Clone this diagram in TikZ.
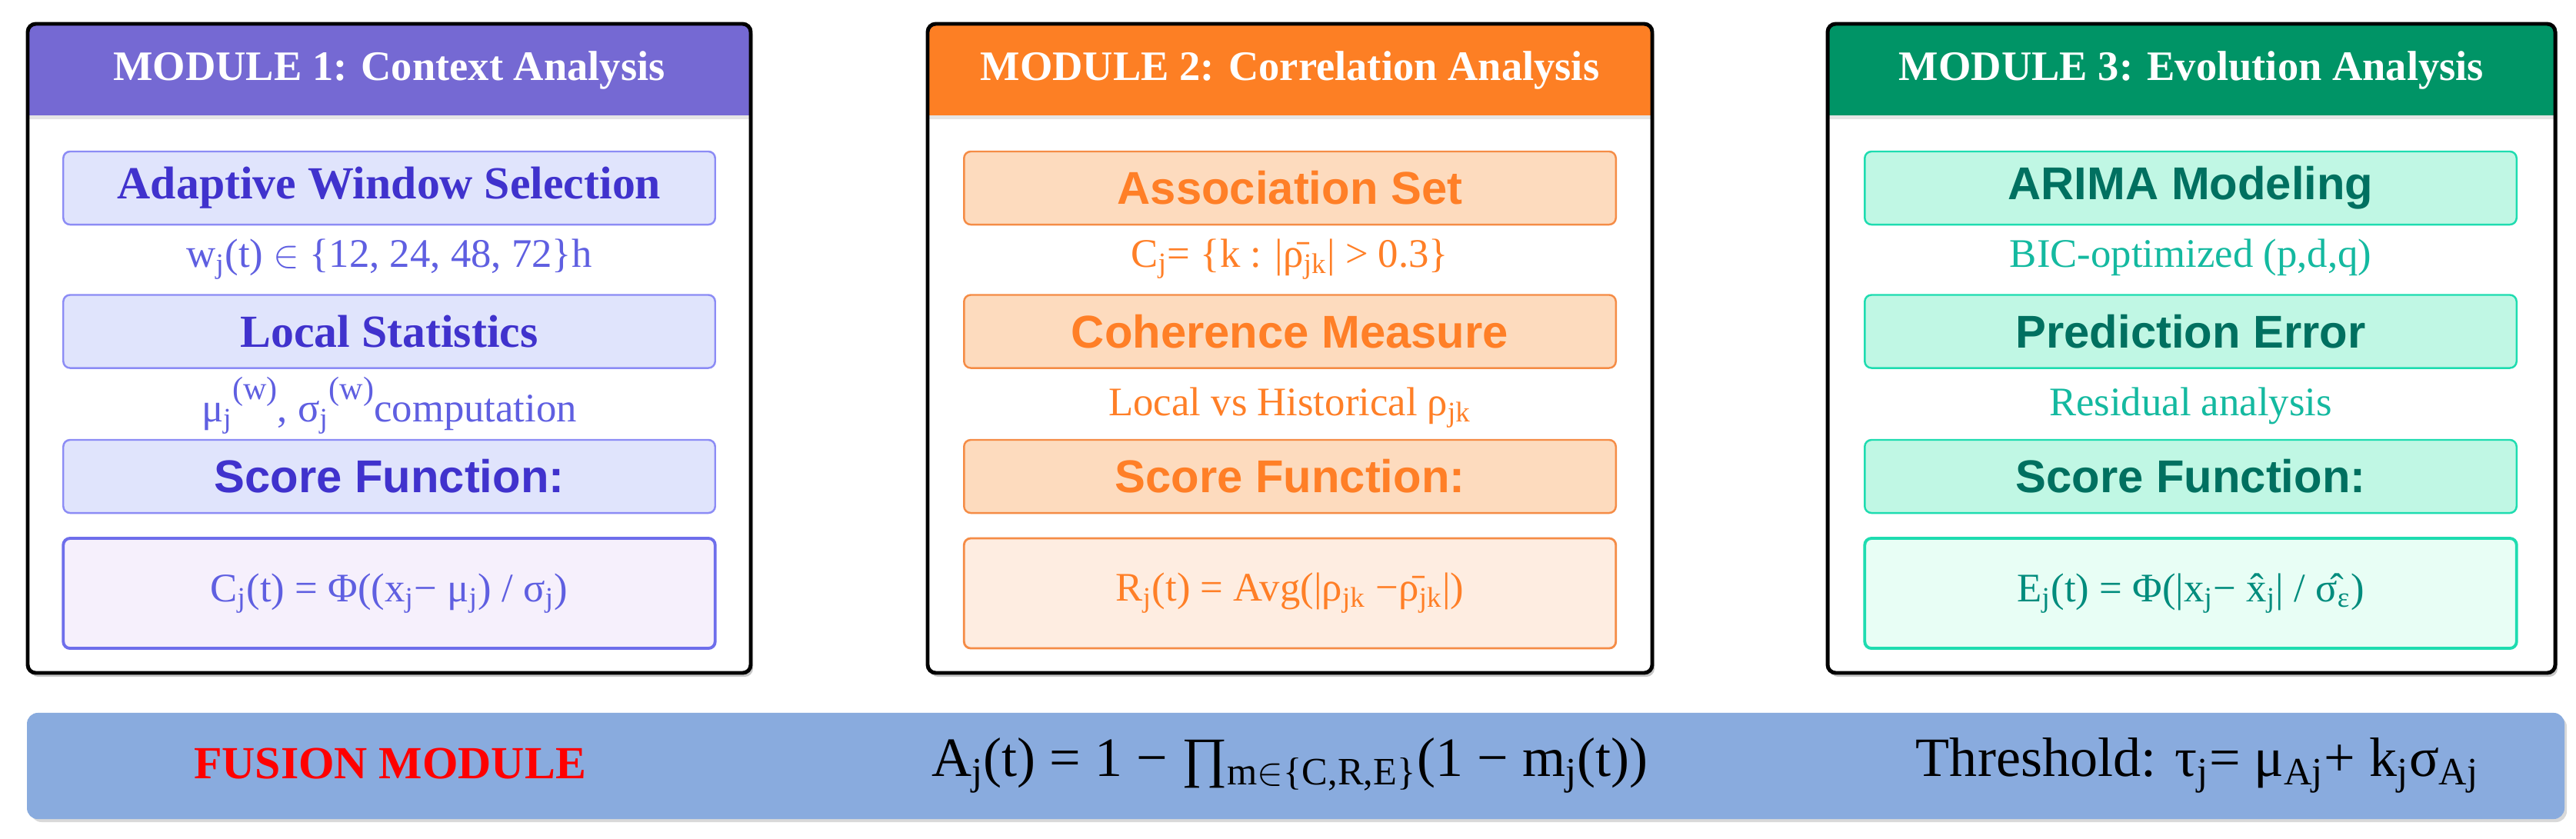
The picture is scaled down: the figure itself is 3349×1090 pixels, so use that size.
\documentclass[tikz,border=0pt]{standalone}
\usepackage{fontspec}
\setmainfont{Liberation Serif}
\setsansfont{Liberation Sans}
\definecolor{hdrA}{RGB}{117,105,211}
\definecolor{hdrB}{RGB}{253,127,36}
\definecolor{hdrC}{RGB}{0,148,102}
\definecolor{txtA}{RGB}{64,50,205}
\definecolor{subA}{RGB}{95,95,225}
\definecolor{fillA}{RGB}{224,228,252}
\definecolor{drawA}{RGB}{140,140,245}
\definecolor{ffillA}{RGB}{246,240,252}
\definecolor{fdrawA}{RGB}{110,110,235}
\definecolor{txtB}{RGB}{255,127,39}
\definecolor{fillB}{RGB}{253,219,190}
\definecolor{drawB}{RGB}{245,140,70}
\definecolor{ffillB}{RGB}{254,237,225}
\definecolor{txtC}{RGB}{0,112,96}
\definecolor{subC}{RGB}{20,185,160}
\definecolor{fillC}{RGB}{192,247,228}
\definecolor{drawC}{RGB}{30,220,176}
\definecolor{ffillC}{RGB}{232,254,245}
\definecolor{ftxtC}{RGB}{0,140,125}
\definecolor{fusionc}{RGB}{137,171,222}
\newcommand{\supw}{\raisebox{0.55em}{\fontsize{12}{14}\selectfont(w)}}
\begin{document}
\begin{tikzpicture}[x=0.01cm,y=-0.01cm,
  hdrtext/.style={text=white,font=\fontsize{15.5}{18}\selectfont\bfseries},
  ibox/.style={rounded corners=2.5pt,line width=0.7pt,minimum width=8.47cm,minimum height=0.95cm,inner sep=0pt},
  fbox/.style={rounded corners=2.5pt,line width=1.1pt,minimum width=8.47cm,minimum height=1.43cm,inner sep=0pt,font=\fontsize{15}{18}\selectfont},
  serifttl/.style={font=\fontsize{17}{20}\selectfont\bfseries},
  sansttl/.style={font=\fontsize{17}{20}\selectfont\sffamily\bfseries},
  subtext/.style={font=\fontsize{15}{18}\selectfont,inner sep=0pt},
  boxA/.style={ibox,fill=fillA,draw=drawA,text=txtA},
  boxB/.style={ibox,fill=fillB,draw=drawB,text=txtB,sansttl},
  boxC/.style={ibox,fill=fillC,draw=drawC,text=txtC,sansttl},
  panelline/.style={draw=black,line width=1.4pt,rounded corners=3pt},
  shadowc/.style={fill=black!22,rounded corners=3pt},
  fusiontext/.style={font=\fontsize{20.5}{24}\selectfont}
]
\useasboundingbox (0,0) rectangle (3349,1090);

% panels
\foreach \L/\R/\H in {36/976/hdrA,1206/2148/hdrB,2376/3322/hdrC}{
  \fill[shadowc] (\L+3,35) rectangle (\R+3,880);
  \begin{scope}
    \clip[rounded corners=3pt] (\L,31) rectangle (\R,875);
    \fill[white] (\L,31) rectangle (\R,875);
    \fill[black!10] (\L,150) rectangle (\R,155);
    \fill[\H] (\L,31) rectangle (\R,150);
  \end{scope}
  \draw[panelline] (\L,31) rectangle (\R,875);
}

% module 1
\node[hdrtext] (h1) at (506,91) {MODULE 1: Context Analysis};
\node[boxA,serifttl] (a1) at (506,244.5) {Adaptive Window Selection};
\node[subtext,text=subA] (s1a) at (506,337) {w\textsubscript{j}(t) $\in$ \{12, 24, 48, 72\}h};
\node[subtext,text=subA] (s1b) at (506,527) {μ\textsubscript{j}\supw, σ\textsubscript{j}\supw computation};
\node[boxA,serifttl] (a2) at (506,431) {Local Statistics};
\node[boxA,sansttl] (a3) at (506,619.5) {Score Function:};
\node[fbox,fill=ffillA,draw=fdrawA,text=subA] (f1) at (506,771.5) {C\textsubscript{j}(t) = Φ((x\textsubscript{j}− μ\textsubscript{j}) / σ\textsubscript{j})};

% module 2
\node[hdrtext] (h2) at (1677,91) {MODULE 2: Correlation Analysis};
\node[boxB] (b1) at (1677,244.5) {Association Set};
\node[subtext,text=txtB] (s2a) at (1677,337) {C\textsubscript{j}= \{k : |\=ρ\textsubscript{jk}| > 0.3\}};
\node[boxB] (b2) at (1677,431) {Coherence Measure};
\node[subtext,text=txtB] (s2b) at (1677,530) {Local vs Historical ρ\textsubscript{jk}};
\node[boxB] (b3) at (1677,619.5) {Score Function:};
\node[fbox,fill=ffillB,draw=drawB,text=txtB,line width=0.8pt] (f2) at (1677,771.5) {R\textsubscript{j}(t) = Avg(|ρ\textsubscript{jk} −\=ρ\textsubscript{jk}|)};

% module 3
\node[hdrtext] (h3) at (2849,91) {MODULE 3: Evolution Analysis};
\node[boxC] (c1) at (2848,244.5) {ARIMA Modeling};
\node[subtext,text=subC] (s3a) at (2848,335) {BIC-optimized (p,d,q)};
\node[boxC] (c2) at (2848,431) {Prediction Error};
\node[subtext,text=subC] (s3b) at (2848,528) {Residual analysis};
\node[boxC] (c3) at (2848,619.5) {Score Function:};
\node[fbox,fill=ffillC,draw=drawC,text=ftxtC] (f3) at (2848,771.5) {E\textsubscript{j}(t) = Φ(|x\textsubscript{j}− \^x\textsubscript{j}| / \^σ\textsubscript{ε})};

% fusion
\fill[black!15,rounded corners=4pt] (40,931) rectangle (3337,1069);
\node[fill=fusionc,rounded corners=4pt,minimum width=32.97cm,minimum height=1.38cm,inner sep=0pt] (fu) at (1684.5,996) {};
\node[text=red,font=\fontsize{17}{20}\selectfont\bfseries] (fl) at (507,993) {FUSION MODULE};
\node[fusiontext] (fa) at (1677,995) {A\textsubscript{j}(t) = 1 − ∏\textsubscript{m$\in$\{C,R,E\}}(1 − m\textsubscript{j}(t))};
\node[fusiontext] (ft) at (2857,995) {Threshold: τ\textsubscript{j}= μ\textsubscript{Aj}+ k\textsubscript{j}σ\textsubscript{Aj}};
\end{tikzpicture}
\end{document}
